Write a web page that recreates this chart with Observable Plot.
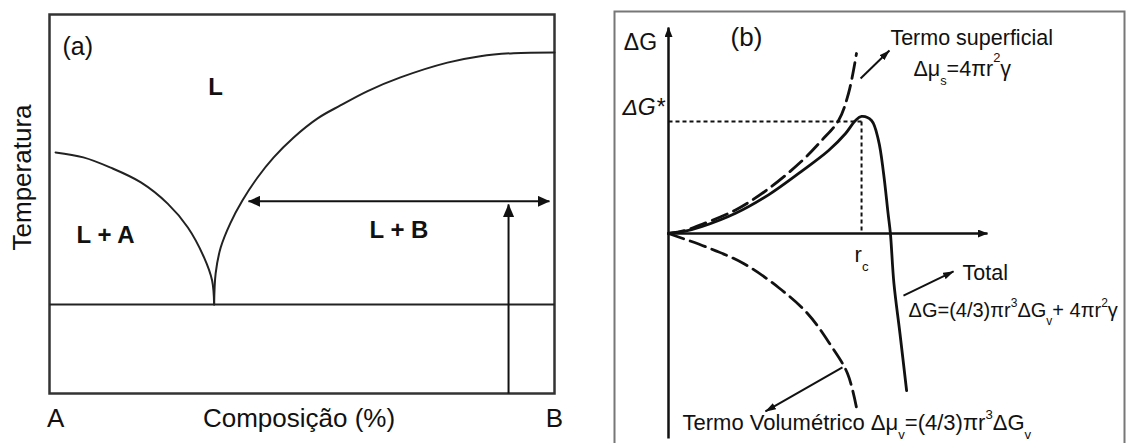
<!DOCTYPE html>
<html><head><meta charset="utf-8">
<script src="https://cdn.jsdelivr.net/npm/d3@7"></script>
<script src="https://cdn.jsdelivr.net/npm/@observablehq/plot@0.6"></script>
<style>
html,body{margin:0;padding:0;background:#fff;overflow:hidden;width:1126px;height:443px;}
#wrap{position:relative;width:1126px;height:443px;overflow:hidden;}
#pa{position:absolute;left:0;top:0;}
#pb{position:absolute;left:563px;top:0;}
</style></head><body><div id="wrap"><div id="pa"></div><div id="pb"></div></div>
<script>
// ---------- Panel (a): composição (% de B) x temperatura (escala relativa 0–100)
const liquidusA = [[1.2,63.6],[6.7,62.3],[12.1,59.6],[18.1,55.7],[23.4,50.1],[27.4,43.8],[30.6,35.9],[32.2,29.8],[32.6,23.5]];
const liquidusB = [[32.6,23.5],[32.9,31.7],[33.9,38.5],[35.8,44.9],[38.2,50.9],[41.2,57.0],[44.4,62.3],[48.3,67.5],[53.1,72.6],[57.6,76.0],[63.0,79.8],[69.5,83.4],[78.8,87.3],[85.3,89.0],[91.9,89.8],[100,90.0]];
const solidus = [{x1:0,y1:23.5,x2:100,y2:23.5}];
const tieLine = [{x1:39.4,y1:50.7,x2:99,y2:50.7}];
const coolingPath = [{x1:90.9,y1:0,x2:90.9,y2:49.9}];
const regionLabels = [{label:"L",x:32.9,y:80.7},{label:"L + A",x:11.1,y:41.7},{label:"L + B",x:69.2,y:43.0}];
const bottomLabelsA = [{label:"A",x:1.2,y:-6.6},{label:"Composição (%)",x:49.4,y:-6.6},{label:"B",x:100,y:-6.6}];
const panelLabelA = [{label:"(a)",x:5.6,y:91.3}];
const yLabelA = [{label:"Temperatura",x:-5.4,y:57.0}];

// ---------- Panel (b): raio r (r_c ≈ 1) x ΔG (ΔG* ≈ 1)
const surfaceTerm = [[0,0],[0.08,0.025],[0.169,0.08],[0.344,0.21],[0.513,0.40],[0.682,0.645],[0.785,0.83],[0.872,1.009],[0.923,1.25],[0.964,1.607]];
const totalTerm = [[0,0],[0.08,0.018],[0.169,0.06],[0.344,0.18],[0.513,0.345],[0.682,0.555],[0.821,0.741],[0.908,0.893],[0.959,1.009],[0.99,1.045],[1.041,1.009],[1.077,0.83],[1.103,0.536],[1.126,0.179],[1.138,0],[1.156,-0.446],[1.187,-0.893],[1.221,-1.402]];
const volumeTerm = [[0,0],[0.2,-0.125],[0.385,-0.268],[0.564,-0.482],[0.713,-0.714],[0.826,-0.982],[0.918,-1.25],[0.969,-1.598]];
const axesB = [{x1:0,y1:-1.83,x2:0,y2:1.84},{x1:0,y1:0,x2:1.636,y2:0}];
const guidesB = [{x1:0,y1:1,x2:0.99,y2:1},{x1:0.99,y1:1,x2:0.99,y2:0}];
const pointersB = [{x1:0.985,y1:1.384,x2:1.133,y2:1.634},{x1:1.205,y1:-0.554,x2:1.462,y2:-0.339},{x1:0.892,y1:-1.196,x2:0.497,y2:-1.589}];
const axisNamesB = [{label:"ΔG",x:-0.144,y:1.705}];
const starLabelB = [{label:"ΔG*",x:-0.128,y:1.125}];
const panelLabelB = [{label:"(b)",x:0.4,y:1.75}];
const rcLabel = [{label:"r_{c}",x:0.99,y:-0.196}];
const notesB = [
  {label:"Termo superficial",x:1.138,y:1.741},
  {label:"Total",x:1.508,y:-0.357}
];
const surfaceFormula = [{label:"Δμ_{s}=4πr^{2}γ",x:1.256,y:1.464}];
const totalFormula = [{label:"ΔG=(4/3)πr^{3}ΔG_{v}+ 4πr^{2}γ",x:1.231,y:-0.688}];
const volumeNote = [{label:"Termo Volumétrico Δμ_{v}=(4/3)πr^{3}ΔG_{v}",x:0.072,y:-1.696}];

const font = "'Liberation Sans', Arial, Helvetica, sans-serif";
const ink = "#111";
const X = d => d[0], Y = d => d[1];

function addMarkers(svg, specs) {
  const s = d3.select(svg);
  const defs = s.insert("defs", ":first-child");
  for (const {id, L, W, sel} of specs) {
    defs.append("marker").attr("id", id)
      .attr("viewBox", `0 0 ${L} ${W}`).attr("refX", L - 0.5).attr("refY", W / 2)
      .attr("markerWidth", L).attr("markerHeight", W)
      .attr("markerUnits", "userSpaceOnUse").attr("orient", "auto-start-reverse")
      .append("path").attr("d", `M0,0L${L},${W / 2}L0,${W}Z`).attr("fill", ink);
    s.selectAll(`g.${sel.cls} path`).each(function () {
      if (sel.end) this.setAttribute("marker-end", `url(#${id})`);
      if (sel.start) this.setAttribute("marker-start", `url(#${id})`);
    });
  }
}

function richText(svg) {
  d3.select(svg).selectAll("text").each(function () {
    const t = this.textContent;
    if (!/[_^]\{/.test(t)) return;
    const g = this.closest("g");
    const fs = parseFloat(this.getAttribute("font-size") || (g && g.getAttribute("font-size")) || 20);
    const hi = this.closest(".hisup") != null;
    const supUp = (hi ? 0.68 : 0.5) * fs, subDown = 0.4 * fs, small = 0.6 * fs;
    const re = /([_^])\{([^}]*)\}/g;
    const parts = []; let last = 0, m;
    while ((m = re.exec(t))) {
      if (m.index > last) parts.push([0, t.slice(last, m.index)]);
      parts.push([m[1] === "_" ? 1 : -1, m[2]]);
      last = re.lastIndex;
    }
    if (last < t.length) parts.push([0, t.slice(last)]);
    while (this.firstChild) this.removeChild(this.firstChild);
    let cur = 0;
    for (const [k, s] of parts) {
      const target = k === 1 ? subDown : k === -1 ? -supUp : 0;
      const ts = document.createElementNS("http://www.w3.org/2000/svg", "tspan");
      ts.setAttribute("dy", target - cur);
      if (k) ts.setAttribute("font-size", small);
      ts.textContent = s;
      this.appendChild(ts);
      cur = target;
    }
  });
}

// ---------- Panel (a)
const plotA = Plot.plot({
  width: 563, height: 443,
  marginLeft: 49, marginRight: 9, marginTop: 14, marginBottom: 50,
  x: {domain: [0, 100], axis: null},
  y: {domain: [0, 100], axis: null},
  style: {background: "transparent", overflow: "visible", fontFamily: font},
  marks: [
    Plot.frame({stroke: "#333", strokeWidth: 2.5}),
    Plot.link(solidus, {x1: "x1", y1: "y1", x2: "x2", y2: "y2", stroke: "#222", strokeWidth: 2}),
    Plot.line(liquidusA, {x: X, y: Y, curve: "catmull-rom", stroke: "#222", strokeWidth: 2}),
    Plot.line(liquidusB, {x: X, y: Y, curve: "catmull-rom", stroke: "#222", strokeWidth: 2}),
    Plot.link(tieLine, {x1: "x1", y1: "y1", x2: "x2", y2: "y2", stroke: ink, strokeWidth: 2, className: "arrowboth"}),
    Plot.link(coolingPath, {x1: "x1", y1: "y1", x2: "x2", y2: "y2", stroke: ink, strokeWidth: 2, className: "arrowup"}),
    Plot.text(regionLabels, {x: "x", y: "y", text: "label", fontSize: 24, fontWeight: "bold", fill: ink}),
    Plot.text(bottomLabelsA, {x: "x", y: "y", text: "label", fontSize: 26, fill: ink}),
    Plot.text(panelLabelA, {x: "x", y: "y", text: "label", fontSize: 25, fill: ink}),
    Plot.text(yLabelA, {x: "x", y: "y", text: "label", fontSize: 26, rotate: -90, fill: ink})
  ]
});
document.getElementById("pa").appendChild(plotA);
addMarkers(plotA, [
  {id: "mk-a-both", L: 12, W: 11, sel: {cls: "arrowboth", start: true, end: true}},
  {id: "mk-a-up", L: 13, W: 11, sel: {cls: "arrowup", end: true}}
]);

// ---------- Panel (b)
const plotB = Plot.plot({
  width: 563, height: 460,
  marginLeft: 51, marginRight: 2, marginTop: 11, marginBottom: 10,
  x: {domain: [0, 1], range: [105, 300], axis: null},
  y: {domain: [0, 1], range: [233, 121], axis: null},
  style: {background: "transparent", overflow: "visible", fontFamily: font},
  marks: [
    Plot.frame({stroke: "#777", strokeWidth: 2}),
    Plot.link(axesB, {x1: "x1", y1: "y1", x2: "x2", y2: "y2", stroke: ink, strokeWidth: 2.5, className: "axisarrow"}),
    Plot.link(guidesB, {x1: "x1", y1: "y1", x2: "x2", y2: "y2", stroke: ink, strokeWidth: 2, strokeDasharray: "4,3"}),
    Plot.line(surfaceTerm, {x: X, y: Y, curve: "catmull-rom", stroke: ink, strokeWidth: 2.8, strokeDasharray: "16,7"}),
    Plot.line(volumeTerm, {x: X, y: Y, curve: "catmull-rom", stroke: ink, strokeWidth: 2.8, strokeDasharray: "16,7"}),
    Plot.line(totalTerm, {x: X, y: Y, curve: "catmull-rom", stroke: ink, strokeWidth: 2.8}),
    Plot.link(pointersB, {x1: "x1", y1: "y1", x2: "x2", y2: "y2", stroke: ink, strokeWidth: 2, className: "pointer"}),
    Plot.text(axisNamesB, {x: "x", y: "y", text: "label", fontSize: 23, fill: ink}),
    Plot.text(starLabelB, {x: "x", y: "y", text: "label", fontSize: 23, fontStyle: "italic", fill: ink}),
    Plot.text(panelLabelB, {x: "x", y: "y", text: "label", fontSize: 26, fill: ink}),
    Plot.text(rcLabel, {x: "x", y: "y", text: "label", fontSize: 22, fill: ink}),
    Plot.text(notesB, {x: "x", y: "y", text: "label", fontSize: 21.5, textAnchor: "start", fill: ink}),
    Plot.text(surfaceFormula, {x: "x", y: "y", text: "label", fontSize: 21.5, textAnchor: "start", fill: ink, className: "hisup"}),
    Plot.text(totalFormula, {x: "x", y: "y", text: "label", fontSize: 20, textAnchor: "start", fill: ink}),
    Plot.text(volumeNote, {x: "x", y: "y", text: "label", fontSize: 22, textAnchor: "start", fill: ink})
  ]
});
document.getElementById("pb").appendChild(plotB);
addMarkers(plotB, [
  {id: "mk-b-axis", L: 10, W: 8, sel: {cls: "axisarrow", end: true}},
  {id: "mk-b-ptr", L: 11, W: 7, sel: {cls: "pointer", end: true}}
]);
richText(plotB);
</script></body></html>
